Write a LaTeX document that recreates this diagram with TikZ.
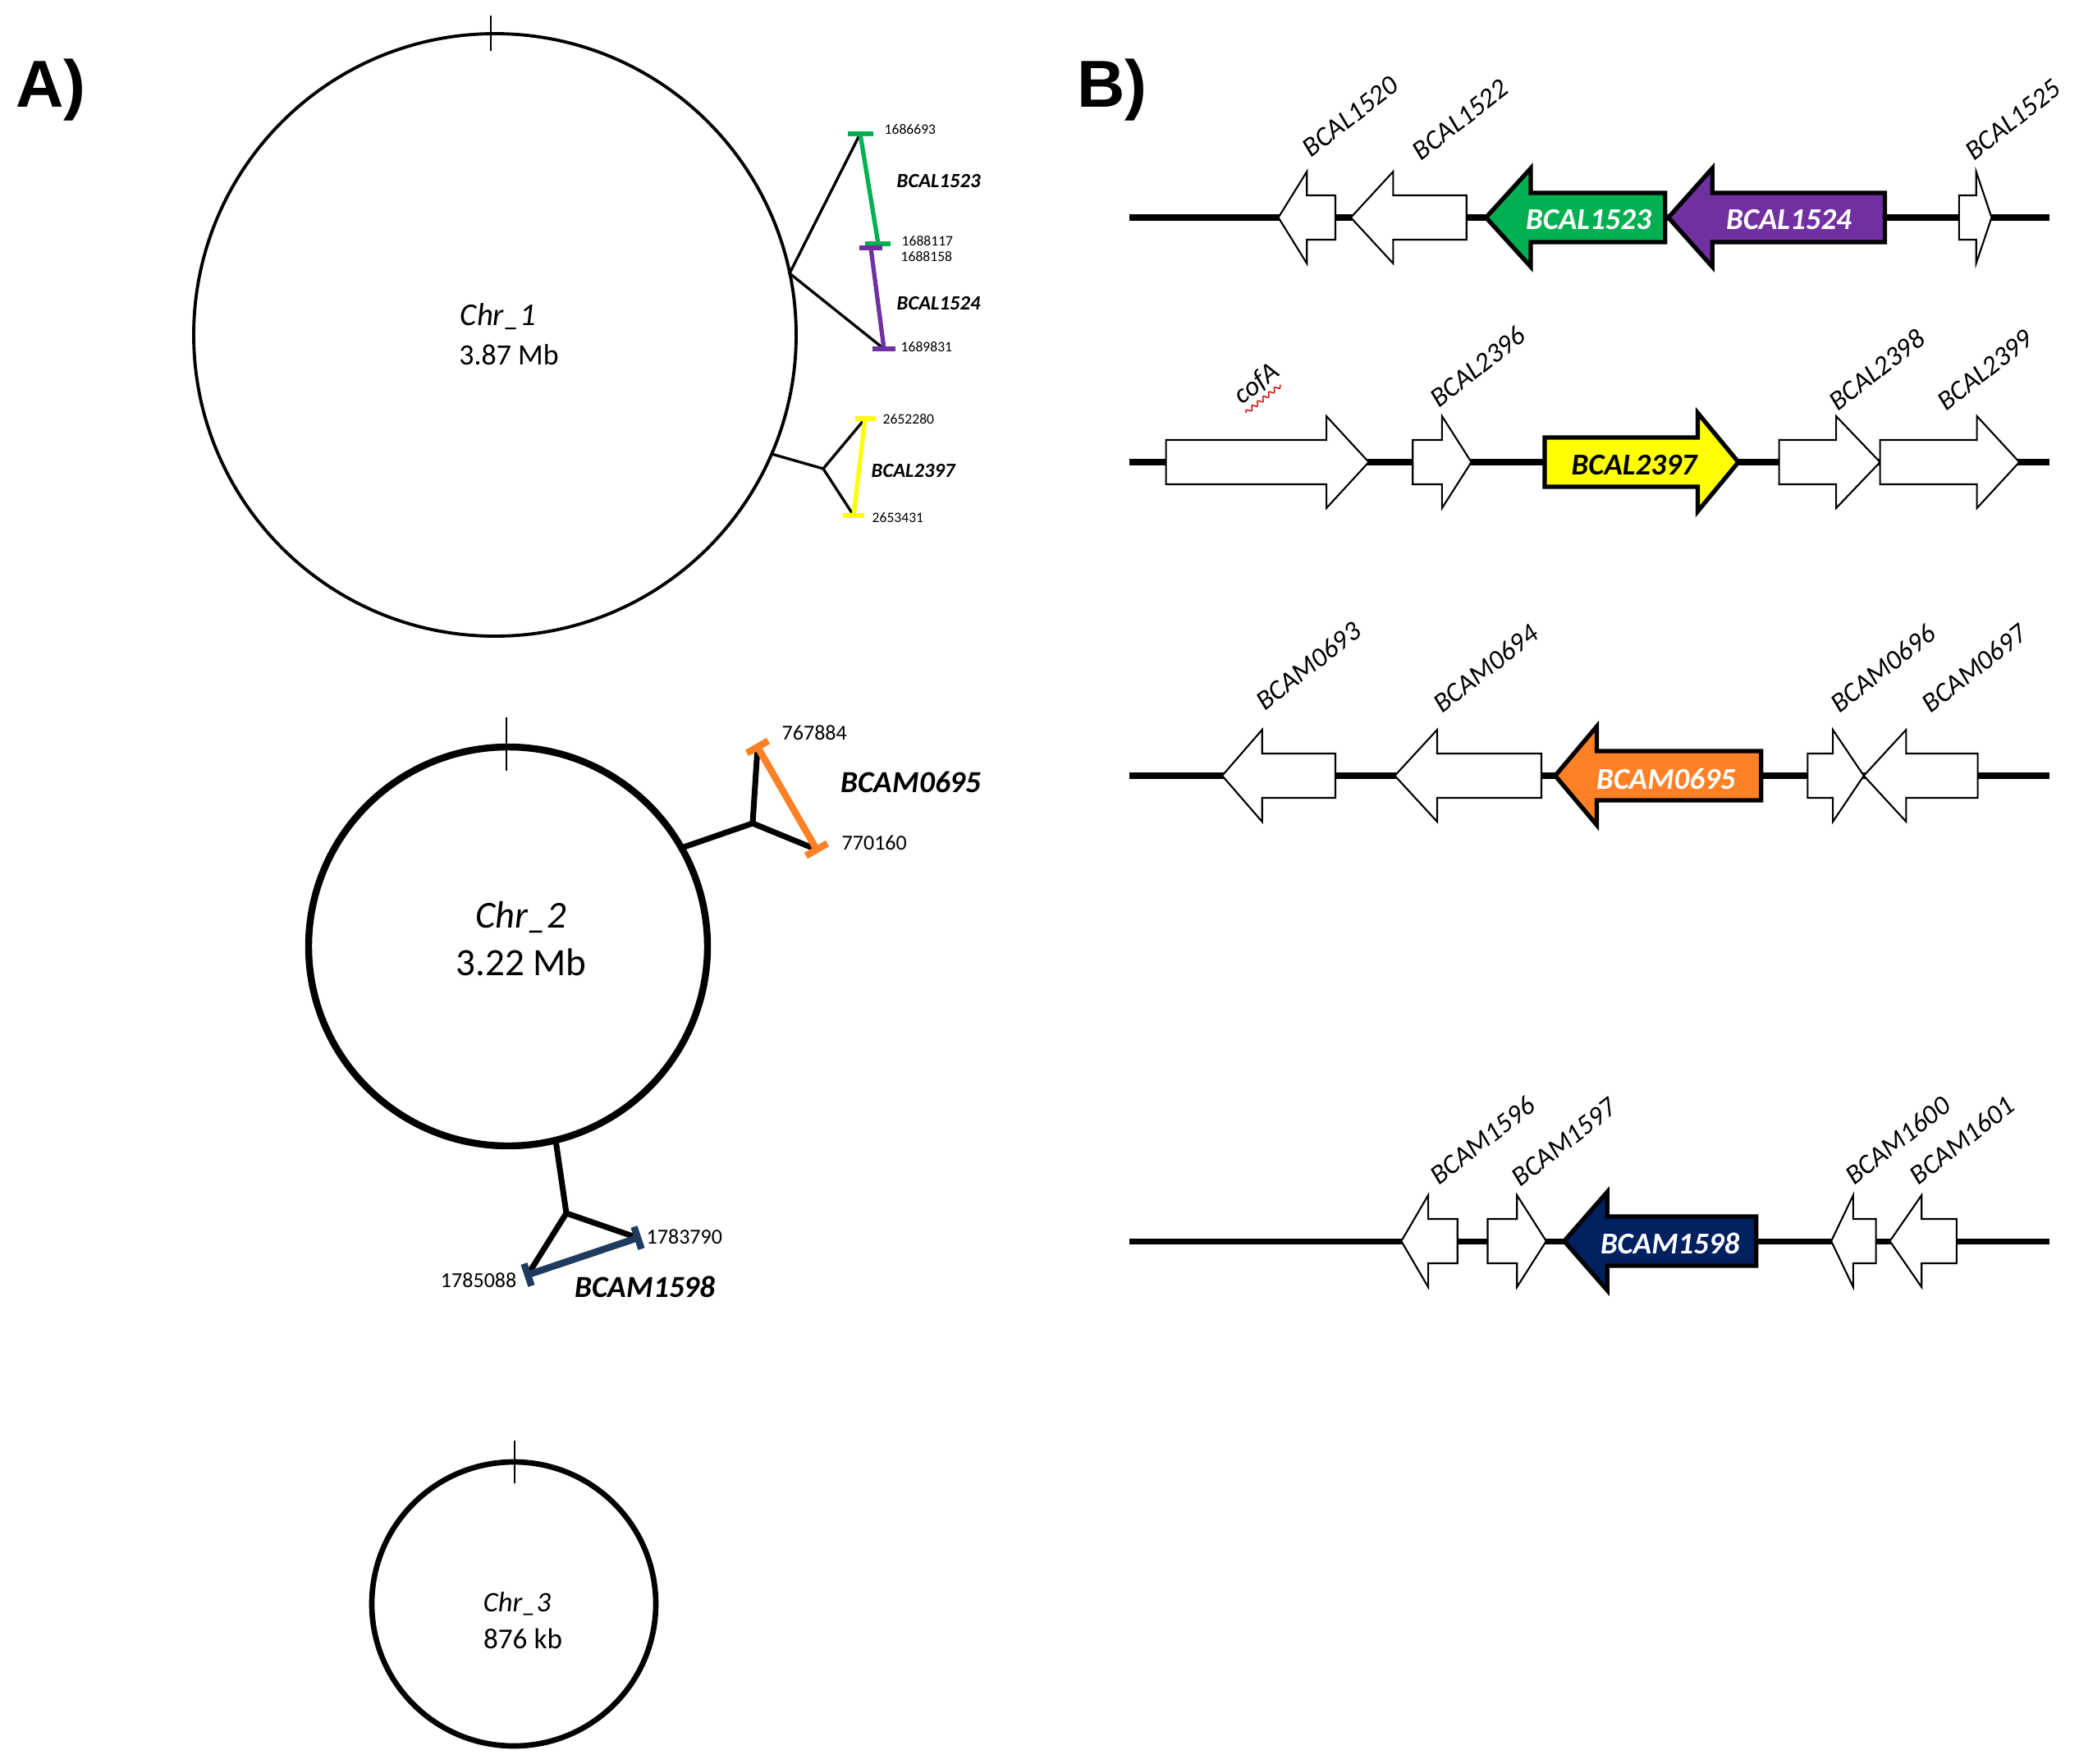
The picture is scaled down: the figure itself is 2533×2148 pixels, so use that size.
\documentclass[tikz,border=0pt]{standalone}
\usepackage{fontspec}
\setmainfont{Carlito}
\newfontfamily\arialfont{Liberation Sans}
\usetikzlibrary{calc,decorations.pathmorphing}
\definecolor{ggreen}{HTML}{00B050}
\definecolor{gpurple}{HTML}{7030A0}
\definecolor{gyellow}{HTML}{FFFF00}
\definecolor{gorange}{HTML}{FF8026}
\definecolor{gnavy}{HTML}{002060}
\definecolor{gslate}{HTML}{1F3A5F}
\newcommand\gene[7]{\draw[#1] ({#2},{#5}) -- ({#3},{#5-#6}) -- ({#3},{#5-#7}) -- ({#4},{#5-#7}) -- ({#4},{#5+#7}) -- ({#3},{#5+#7}) -- ({#3},{#5+#6}) -- cycle;}
\tikzset{
  panel/.style={font=\arialfont\bfseries\fontsize{23}{26}\selectfont, inner sep=0pt},
  glabel/.style={font=\fontsize{9.5}{11}\selectfont\itshape, anchor=base west, rotate=38, inner sep=0pt},
  inlabel/.style={font=\fontsize{10.5}{12}\selectfont\bfseries\itshape, inner sep=0pt},
  wgene/.style={draw=black, fill=white, line width=0.6pt, line join=miter},
  cgene/.style={draw=black, line width=1.5pt, line join=miter},
  backbone/.style={line width=2pt},
  ctick/.style={line width=0.5pt},
  br1/.style={line width=0.95pt},
  br2/.style={line width=2pt},
  bar1/.style={line width=1.5pt},
  bar2/.style={line width=2.4pt},
  num1/.style={font=\fontsize{5}{6}\selectfont, anchor=west, inner sep=0pt},
  gn1/.style={font=\fontsize{7}{8}\selectfont\bfseries\itshape, anchor=west, inner sep=0pt},
  num2/.style={font=\fontsize{7.4}{9}\selectfont, anchor=west, inner sep=0pt},
  gn2/.style={font=\fontsize{10.6}{12}\selectfont\bfseries\itshape, anchor=west, inner sep=0pt},
}
\begin{document}
\begin{tikzpicture}[x=0.01cm,y=-0.01cm]
\useasboundingbox (0,0) rectangle (2533,2148);
% panel labels
\node[panel] (pa) at (62,110) {A)};
\node[panel] (pb) at (1355,110) {B)};

% ---------- Chr_1 ----------
\draw[line width=1.1pt] (603,408) circle (367);
\draw[ctick] (598,19) -- (598,62);
\node[font=\fontsize{11}{13}\selectfont\itshape] (c1n) at (607,386) {Chr\_1};
\node[font=\fontsize{10.2}{12}\selectfont] (c1s) at (620,432) {3.87 Mb};

\coordinate (c1a) at (962,333);
\coordinate (g1t) at (1048,163);
\coordinate (g1b) at (1070,297);
\coordinate (p1t) at (1061,302);
\coordinate (p1b) at (1077,425);
\draw[br1] (g1t) -- (c1a) -- (p1b);
\draw[bar1, ggreen] (g1t) -- (g1b);
\draw[bar1, ggreen] ($(g1t)+(-15,0)$) -- ($(g1t)+(16,0)$);
\draw[bar1, ggreen] ($(g1b)+(-16,0)$) -- ($(g1b)+(15,0)$);
\draw[bar1, gpurple] (p1t) -- (p1b);
\draw[bar1, gpurple] ($(p1t)+(-14,0)$) -- ($(p1t)+(14,0)$);
\draw[bar1, gpurple] ($(p1b)+(-14,0)$) -- ($(p1b)+(14,0)$);
\node[num1] (n1) at (1077,158) {1686693};
\node[gn1] (l1) at (1092,221) {BCAL1523};
\node[num1] (n2) at (1098,294) {1688117};
\node[num1] (n3) at (1097,313) {1688158};
\node[gn1] (l2) at (1092,370) {BCAL1524};
\node[num1] (n4) at (1097,423) {1689831};

\coordinate (c1b) at (940,553);
\coordinate (j1) at (1003,571);
\coordinate (y1t) at (1054,510);
\coordinate (y1b) at (1040,628);
\draw[br1] (c1b) -- (j1);
\draw[br1] (y1t) -- (j1) -- (y1b);
\draw[bar1, gyellow] (y1t) -- (y1b);
\draw[bar1, gyellow] ($(y1t)+(-12,0)$) -- ($(y1t)+(13,0)$);
\draw[bar1, gyellow] ($(y1b)+(-13,0)$) -- ($(y1b)+(13,0)$);
\node[num1] (n5) at (1075,511) {2652280};
\node[gn1] (l3) at (1061,574) {BCAL2397};
\node[num1] (n6) at (1062,631) {2653431};

% ---------- Chr_2 ----------
\draw[line width=2.4pt] (619,1153) circle (243);
\draw[ctick] (617,874) -- (617,939);
\node[font=\fontsize{13.2}{15}\selectfont\itshape] (c2n) at (635,1117) {Chr\_2};
\node[font=\fontsize{13.4}{15}\selectfont] (c2s) at (635,1172) {3.22 Mb};

\coordinate (c2a) at (833,1032);
\coordinate (j2) at (917,1003);
\coordinate (o2t) at (923,910);
\coordinate (o2b) at (995,1035);
\draw[br2] (c2a) -- (j2);
\draw[br2] (o2t) -- (j2) -- (o2b);
\draw[bar2, gorange] (o2t) -- (o2b);
\draw[bar2, gorange] ($(o2t)+(13,-7.5)$) -- ($(o2t)+(-13,7.5)$);
\draw[bar2, gorange] ($(o2b)+(13,-7.5)$) -- ($(o2b)+(-13,7.5)$);
\node[num2] (n7) at (952,893) {767884};
\node[gn2] (l4) at (1024,953) {BCAM0695};
\node[num2] (n8) at (1025,1027) {770160};

\coordinate (c2b) at (677,1389);
\coordinate (j3) at (690,1478);
\coordinate (b2r) at (777,1508);
\coordinate (b2l) at (643,1553);
\draw[br2] (c2b) -- (j3);
\draw[br2] (b2r) -- (j3) -- (b2l);
\draw[bar2, gslate] (b2r) -- (b2l);
\draw[bar2, gslate] ($(b2r)+(4.5,13.5)$) -- ($(b2r)+(-4.5,-13.5)$);
\draw[bar2, gslate] ($(b2l)+(4.5,13.5)$) -- ($(b2l)+(-4.5,-13.5)$);
\node[num2] (n9) at (787,1507) {1783790};
\node[num2, anchor=east] (n10) at (630,1560) {1785088};
\node[gn2] (l5) at (700,1568) {BCAM1598};

% ---------- Chr_3 ----------
\draw[line width=1.9pt] (626,1954) circle (173);
\draw[ctick] (627,1755) -- (627,1807);
\node[font=\fontsize{9.8}{12}\selectfont\itshape] (c3n) at (630,1954) {Chr\_3};
\node[font=\fontsize{10}{12}\selectfont] (c3s) at (637,1996) {876 kb};

% ---------- Panel B ----------
\begin{scope}[shift={(1374,0)}, xscale=0.992, shift={(-1374,0)}]
% row 1
\coordinate (r1a) at (1376,265); \coordinate (r1b) at (2506,265);
\draw[backbone] (r1a) -- (r1b);
\gene{wgene}{1559}{1594}{1629}{265}{56}{27}
\gene{wgene}{1648}{1700}{1790}{265}{56}{27}
\gene{cgene,fill=ggreen}{1814}{1869}{2034}{265}{60}{30}
\gene{cgene,fill=gpurple}{2038}{2092}{2304}{265}{60}{30}
\gene{wgene}{2435}{2416}{2395}{265}{56}{27}
\node[inlabel, white] (i1) at (1940,268) {BCAL1523};
\node[inlabel, white] (i2) at (2186,268) {BCAL1524};
\node[glabel] (t1) at (1599,193) {BCAL1520};
\node[glabel] (t2) at (1734,197) {BCAL1522};
\node[glabel] (t3) at (2413,197) {BCAL1525};

% row 2
\coordinate (r2a) at (1376,563); \coordinate (r2b) at (2506,563);
\draw[backbone] (r2a) -- (r2b);
\gene{wgene}{1670}{1618}{1421}{563}{56}{27}
\gene{wgene}{1796}{1760}{1724}{563}{56}{27}
\gene{cgene,fill=gyellow}{2124}{2074}{1886}{563}{60}{30}
\gene{wgene}{2298}{2244}{2174}{563}{56}{27}
\gene{wgene}{2469}{2417}{2298}{563}{56}{27}
\node[inlabel, black] (i3) at (1996,567) {BCAL2397};
\node[glabel] (t4) at (1514,494) {cofA};
\draw[red!85!black, line width=0.4pt, decorate, decoration={snake, amplitude=0.7pt, segment length=2.5pt}] (1519,503) -- (1562,469);
\node[glabel] (t5) at (1756,498) {BCAL2396};
\node[glabel] (t6) at (2246,502) {BCAL2398};
\node[glabel] (t7) at (2379,502) {BCAL2399};

% row 3
\coordinate (r3a) at (1376,945); \coordinate (r3b) at (2506,945);
\draw[backbone] (r3a) -- (r3b);
\gene{wgene}{1490}{1539}{1629}{945}{56}{27}
\gene{wgene}{1702}{1754}{1882}{945}{56}{27}
\gene{cgene,fill=gorange}{1899}{1950}{2152}{945}{60}{30}
\gene{wgene}{2278}{2240}{2209}{945}{56}{27}
\gene{wgene}{2278}{2330}{2418}{945}{56}{27}
\node[inlabel, white] (i4) at (2035,949) {BCAM0695};
\node[glabel] (t8) at (1542,867) {BCAM0693};
\node[glabel] (t9) at (1760,870) {BCAM0694};
\node[glabel] (t10) at (2248,870) {BCAM0696};
\node[glabel] (t11) at (2360,870) {BCAM0697};

% row 4
\coordinate (r4a) at (1376,1512); \coordinate (r4b) at (2506,1512);
\draw[backbone] (r4a) -- (r4b);
\gene{wgene}{1710}{1743}{1779}{1512}{56}{27}
\gene{wgene}{1888}{1852}{1816}{1512}{56}{27}
\gene{cgene,fill=gnavy}{1910}{1963}{2146}{1512}{60}{30}
\gene{wgene}{2238}{2265}{2293}{1512}{56}{27}
\gene{wgene}{2310}{2349}{2392}{1512}{56}{27}
\node[inlabel, white] (i5) at (2040,1515) {BCAM1598};
\node[glabel] (t12) at (1756,1445) {BCAM1596};
\node[glabel] (t13) at (1856,1447) {BCAM1597};
\node[glabel] (t14) at (2266,1445) {BCAM1600};
\node[glabel] (t15) at (2345,1445) {BCAM1601};
\end{scope}
\end{tikzpicture}
\end{document}
